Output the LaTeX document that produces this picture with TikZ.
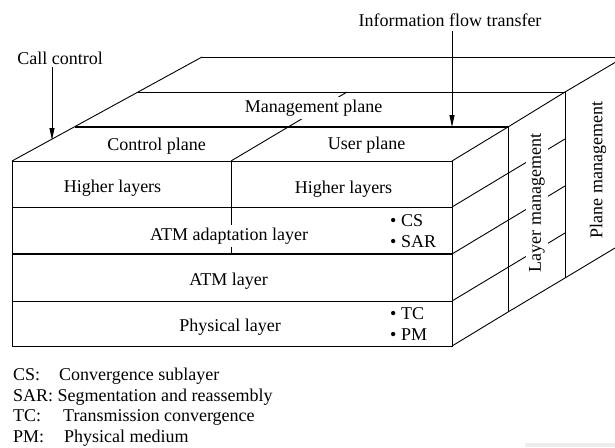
\documentclass[tikz,border=0pt]{standalone}
\usepackage{fontspec}
\setmainfont{Liberation Serif}
\usetikzlibrary{arrows.meta}
\begin{document}
\begin{tikzpicture}[x=1pt,y=-1pt,
  ln/.style={line width=0.9pt},
  thk/.style={line width=2.6pt},
  lbl/.style={inner sep=0pt,anchor=base,font=\fontsize{18}{20.7}\selectfont},
  wlbl/.style={lbl,fill=white,inner sep=3pt},
  lgd/.style={inner sep=0pt,anchor=base west,font=\fontsize{18}{20.7}\selectfont},
  vlbl/.style={inner sep=3pt,fill=white,rotate=90,anchor=center,font=\fontsize{18}{20.7}\selectfont},
  arr/.style={ln,-{Triangle[length=12pt,width=5pt]}}]
\useasboundingbox (0,0) rectangle (615,447);
% faint strip at the bottom right
\fill[black!7] (525,443) rectangle (615,447);
% key points
\coordinate (ftl) at (12,161);
\coordinate (ftr) at (452,161);
\coordinate (fbl) at (12,346);
\coordinate (fbr) at (452,346);
\coordinate (d1l) at (75,127);
\coordinate (d1r) at (508,127);
\coordinate (d2l) at (138,92);
\coordinate (d2r) at (565,92);
\coordinate (d3l) at (202,57);
\coordinate (d3r) at (615,57);
\coordinate (d3e) at (615,62.5);
\coordinate (b1) at (508,312);
\coordinate (b2) at (565,278);
\coordinate (b3) at (615,248);
\coordinate (div) at (231,161);
\coordinate (divb) at (231,254);
\coordinate (divt) at (347,92);
% front face
\draw[ln] (ftl) rectangle (fbr);
\draw[ln] (12,207) -- (452,207);
\draw[thk] (12,254) -- (452,254);
\draw[ln] (12,301) -- (452,301);
\draw[ln] (div) -- (divb);
% top face
\draw[ln] (ftl) -- (d3l);
\draw[thk] (d1l) -- (d1r);
\draw[ln] (d2l) -- (d2r);
\draw[ln] (d3l) -- (d3r);
\draw[ln] (ftr) -- (d1r) -- (d2r) -- (d3e);
\draw[ln] (div) -- (divt);
% right faces
\draw[ln] (d1r) -- (b1);
\draw[ln] (d2r) -- (b2);
\draw[ln] (fbr) -- (b1) -- (b2) -- (b3);
\draw[ln] (452,207) -- (565,139);
\draw[ln] (452,254) -- (565,186);
\draw[ln] (452,301) -- (565,233);
% labels
\node[lbl] (call) at (60,64) {Call control};
\node[lbl] (info) at (450,26.7) {Information flow transfer};
\node[wlbl] (mgmt) at (313.5,112.5) {Management plane};
\node[lbl] (ctrl) at (156.5,150.5) {Control plane};
\node[lbl] (user) at (366.5,149) {User plane};
\node[lbl] (hl1) at (112.5,192.3) {Higher layers};
\node[lbl] (hl2) at (343.5,193) {Higher layers};
\node[wlbl] (aal) at (229,240.5) {ATM adaptation layer};
\node[lbl] (atm) at (228.5,285.6) {ATM layer};
\node[lbl] (phy) at (230,331.6) {Physical layer};
\node[lgd] (cs) at (390,226.7) {• CS};
\node[lgd] (sar) at (390,247.3) {• SAR};
\node[lgd] (tc) at (390,319.3) {• TC};
\node[lgd] (pm) at (390,340.7) {• PM};
\node[vlbl] (lm) at (537,203) {Layer management};
\node[vlbl] (pmg) at (598,170) {Plane management};
% arrows
\coordinate (callTip) at (52,140);
\coordinate (infoTip) at (452,127);
\draw[arr] ([yshift=-3pt]call.south -| callTip) -- (callTip);
\draw[arr] ([yshift=-4pt]info.south -| infoTip) -- (infoTip);
% legend
\node[lgd] (k1) at (13,380.3) {CS:};
\node[lgd] (v1) at (59,380.3) {Convergence sublayer};
\node[lgd] (k2) at (13,401.7) {SAR: Segmentation and reassembly};
\node[lgd] (k3) at (13,421.7) {TC:};
\node[lgd] (v3) at (63,421.7) {Transmission convergence};
\node[lgd] (k4) at (13,442.3) {PM:};
\node[lgd] (v4) at (64,442.3) {Physical medium};
\end{tikzpicture}
\end{document}
